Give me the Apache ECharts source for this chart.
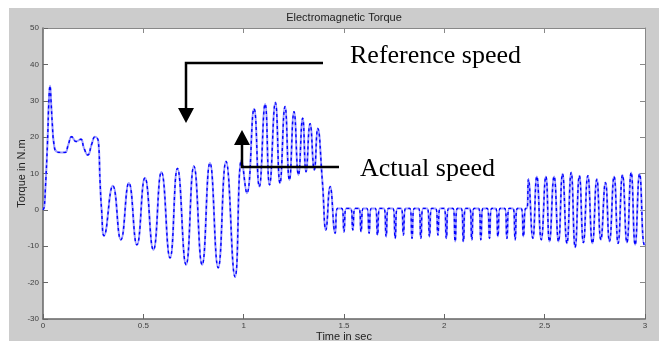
<!DOCTYPE html>
<html>
<head>
<meta charset="utf-8">
<script src="https://cdn.jsdelivr.net/npm/echarts@6/dist/echarts.min.js"></script>
<style>
  html, body { margin: 0; padding: 0; background: #fff; }
  #torque { width: 661px; height: 341px; }
</style>
</head>
<body>
<div id="torque"></div>
<script>
// start-up transient (0 - 0.3 s)
const startT = [0, 0.006, 0.012, 0.022, 0.030, 0.035, 0.040, 0.046, 0.055, 0.068, 0.088, 0.110, 0.126, 0.143, 0.165, 0.188, 0.204, 0.223, 0.243, 0.259, 0.276, 0.284, 0.292];
const startV = [0, 0.8, 6, 18, 31, 34.1, 30, 24, 17.9, 16, 15.8, 15.8, 17.9, 20.1, 18.8, 19.4, 17, 15.1, 18.1, 20.1, 18.8, 8.2, 0];

// growing oscillation before the speed step (0.3 - 1.0 s)
const lowT = [0.304, 0.348, 0.388, 0.428, 0.468, 0.508, 0.550, 0.590, 0.633, 0.670, 0.713, 0.752, 0.793, 0.832, 0.873, 0.912, 0.957, 0.990];
const lowV = [-7.1, 6.6, -8.2, 7.4, -9.6, 8.8, -11.0, 10.4, -13.2, 11.4, -15.1, 12.0, -15.1, 12.9, -15.9, 13.3, -18.4, 13.8];

// high torque oscillation (1.0 - 1.43 s)
const highT = [1.016, 1.052, 1.078, 1.107, 1.129, 1.158, 1.181, 1.206, 1.228, 1.251, 1.273, 1.294, 1.311, 1.331, 1.352, 1.369, 1.392, 1.410, 1.431];
const highV = [4.6, 27.8, 6.4, 29.1, 6.9, 29.5, 7.3, 28.4, 8.2, 27.0, 9.6, 25.2, 10.5, 23.7, 11.0, 22.4, 8.0, -5.5, 6.4];

// near-zero ripple (1.45 - 2.41 s)
const zeroT = [1.456, 1.467, 1.489, 1.500, 1.511, 1.533, 1.544, 1.555, 1.574, 1.585, 1.596, 1.614, 1.625, 1.636, 1.656,
  1.667, 1.678, 1.699, 1.710, 1.721, 1.744, 1.755, 1.766, 1.785, 1.796, 1.807, 1.828, 1.839, 1.850, 1.872,
  1.883, 1.894, 1.915, 1.926, 1.937, 1.957, 1.968, 1.979, 1.999, 2.010, 2.021, 2.043, 2.054, 2.065, 2.084,
  2.095, 2.106, 2.126, 2.137, 2.148, 2.171, 2.182, 2.193, 2.214, 2.225, 2.236, 2.256, 2.267, 2.278, 2.301,
  2.312, 2.323, 2.342, 2.353, 2.364, 2.383, 2.394, 2.405, 2.412];
const zeroV = [-6.4, 0.4, 0.4, -6.0, 0.4, 0.4, -5.5, 0.4, 0.4, -6.0, 0.4, 0.4, -6.4, 0.4, 0.4,
  -6.9, 0.4, 0.4, -7.3, 0.4, 0.4, -7.8, 0.4, 0.4, -6.9, 0.4, 0.4, -7.8, 0.4, 0.4,
  -7.8, 0.4, 0.4, -7.3, 0.4, 0.4, -6.9, 0.4, 0.4, -7.8, 0.4, 0.4, -8.7, 0.4, 0.4,
  -8.7, 0.4, 0.4, -8.2, 0.4, 0.4, -8.2, 0.4, 0.4, -7.8, 0.4, 0.4, -7.3, 0.4, 0.4,
  -7.8, 0.4, 0.4, -8.2, 0.4, 0.4, -7.3, 0.4, 0.4];

// final oscillation (2.42 - 3 s)
const finalT = [2.419, 2.441, 2.461, 2.483, 2.506, 2.524, 2.547, 2.569, 2.589, 2.611, 2.632, 2.652, 2.673, 2.693, 2.715,
  2.738, 2.760, 2.780, 2.803, 2.823, 2.846, 2.866, 2.888, 2.910, 2.931, 2.951, 2.973, 2.996, 3.0];
const finalV = [8.4, -7.8, 9.2, -8.2, 9.2, -8.7, 9.2, -8.7, 9.9, -9.2, 10.3, -10.3, 9.4, -9.0, 9.4,
  -9.2, 8.4, -8.2, 7.5, -8.7, 9.2, -9.2, 9.6, -9.0, 10.3, -9.6, 9.9, -9.5, -9.0];

const xTicks = [0, 0.5, 1, 1.5, 2, 2.5, 3];
const yTicks = [-30, -20, -10, 0, 10, 20, 30, 40, 50];

const timeSec = [].concat(startT, lowT, highT, zeroT, finalT);
const torqueNm = [].concat(startV, lowV, highV, zeroV, finalV);
const points = timeSec.map((t, i) => [t, torqueNm[i]]);

const myChart = echarts.init(document.getElementById('torque'));
window.addEventListener('resize', function () {
  myChart.resize();
});

const tickFont = { fontFamily: 'Liberation Sans', fontSize: 8, color: '#404040' };

const option = {
  animation: false,
  backgroundColor: '#fff',
  grid: {
    left: 43, top: 28, width: 602, height: 291,
    outerBoundsMode: 'none', containLabel: false,
    show: true, backgroundColor: '#fff', borderWidth: 0
  },
  graphic: [
    // grey figure panel behind the axes
    { type: 'rect', z: -10, shape: { x: 9, y: 8, width: 650, height: 333 }, style: { fill: '#cccccc' } },
    { type: 'text', x: 344, y: 17.5, style: { text: 'Electromagnetic Torque', fontFamily: 'Liberation Sans', fontSize: 11, fill: '#222', align: 'center', verticalAlign: 'middle' } },
    // annotations
    { type: 'polyline', z: 100, shape: { points: [[323, 63], [186, 63], [186, 109]] }, style: { stroke: '#000', lineWidth: 2.5, fill: null } },
    { type: 'polygon', z: 100, shape: { points: [[178, 108], [194, 108], [186, 123]] }, style: { fill: '#000' } },
    { type: 'polyline', z: 100, shape: { points: [[339, 167], [242, 167], [242, 144]] }, style: { stroke: '#000', lineWidth: 2.5, fill: null } },
    { type: 'polygon', z: 100, shape: { points: [[234, 145], [250, 145], [242, 130]] }, style: { fill: '#000' } },
    { type: 'text', z: 100, x: 350, y: 56, style: { text: 'Reference speed', fontFamily: 'Liberation Serif', fontSize: 26, fill: '#000', verticalAlign: 'middle' } },
    { type: 'text', z: 100, x: 360, y: 169, style: { text: 'Actual speed', fontFamily: 'Liberation Serif', fontSize: 26, fill: '#000', verticalAlign: 'middle' } }
  ],
  xAxis: [
    {
      type: 'value', min: 0, max: 3, interval: 0.5, position: 'bottom',
      name: 'Time in sec', nameLocation: 'middle', nameGap: 12, nameMoveOverlap: false,
      nameTextStyle: { fontFamily: 'Liberation Sans', fontSize: 11, color: '#222' },
      axisLine: { onZero: false, lineStyle: { color: '#666', width: 1.5 } },
      axisTick: { inside: true, length: 5, lineStyle: { color: '#666' } },
      axisLabel: Object.assign({ margin: 3, formatter: v => xTicks.includes(v) ? String(v) : '' }, tickFont),
      splitLine: { show: false }
    },
    {
      type: 'value', min: 0, max: 3, interval: 0.5, position: 'top',
      axisLine: { onZero: false, lineStyle: { color: '#888', width: 1 } },
      axisTick: { inside: true, length: 5, lineStyle: { color: '#888' } },
      axisLabel: { show: false },
      splitLine: { show: false }
    }
  ],
  yAxis: [
    {
      type: 'value', min: -30, max: 50, interval: 10, position: 'left',
      name: 'Torque in N.m', nameLocation: 'middle', nameGap: 16, nameRotate: 90, nameMoveOverlap: false,
      nameTextStyle: { fontFamily: 'Liberation Sans', fontSize: 11, color: '#222' },
      axisLine: { show: true, onZero: false, lineStyle: { color: '#666', width: 1.5 } },
      axisTick: { show: true, inside: true, length: 5, lineStyle: { color: '#666' } },
      axisLabel: Object.assign({ margin: 4, formatter: v => yTicks.includes(v) ? String(v) : '' }, tickFont),
      splitLine: { show: false }
    },
    {
      type: 'value', min: -30, max: 50, interval: 10, position: 'right',
      axisLine: { show: true, onZero: false, lineStyle: { color: '#888', width: 1 } },
      axisTick: { show: true, inside: true, length: 5, lineStyle: { color: '#888' } },
      axisLabel: { show: false },
      splitLine: { show: false }
    }
  ],
  series: [
    {
      name: 'Torque',
      type: 'line',
      data: points,
      smooth: 0.5,
      symbol: 'none',
      lineStyle: { color: '#9a9aff', width: 2 }
    },
    {
      name: 'Torque dashes',
      type: 'line',
      data: points,
      smooth: 0.5,
      symbol: 'none',
      lineStyle: { color: '#0000ff', width: 1.4, type: [3, 3] }
    }
  ]
};
myChart.setOption(option);
</script>
</body>
</html>
